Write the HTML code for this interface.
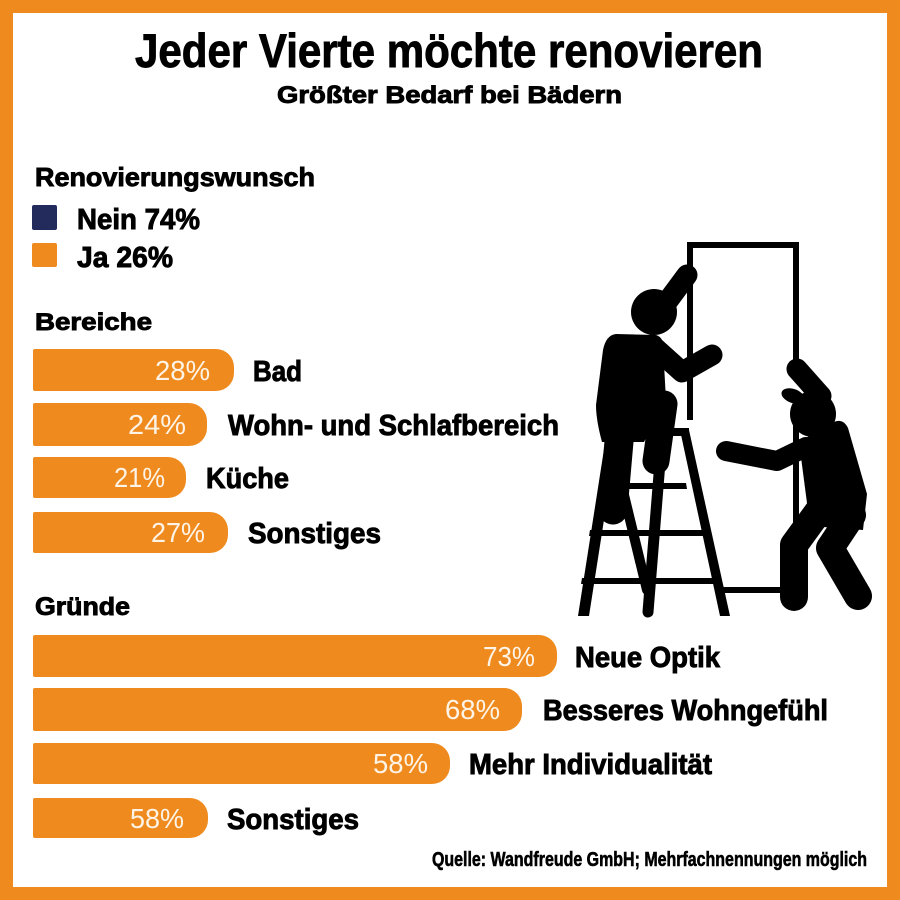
<!DOCTYPE html>
<html>
<head>
<meta charset="utf-8">
<style>
html,body{margin:0;padding:0;background:#fff;}
svg{display:block;}
.h{font-family:"Liberation Sans",sans-serif;font-weight:bold;fill:#000;stroke:#000;stroke-width:0.9;}
.p{font-family:"Liberation Sans",sans-serif;font-weight:normal;fill:#fdf3e6;}
</style>
</head>
<body>
<svg width="900" height="900" viewBox="0 0 900 900" xmlns="http://www.w3.org/2000/svg">
  <rect x="0" y="0" width="900" height="900" fill="#EF8B1E"/>
  <rect x="13" y="13" width="874" height="874" fill="#ffffff"/>

  <!-- Title -->
  <text class="h" x="135" y="67" font-size="47" textLength="628" lengthAdjust="spacingAndGlyphs">Jeder Vierte möchte renovieren</text>
  <text class="h" x="277" y="103" font-size="24" textLength="345" lengthAdjust="spacingAndGlyphs">Größter Bedarf bei Bädern</text>

  <!-- Renovierungswunsch -->
  <text class="h" x="35" y="186" font-size="26" textLength="280" lengthAdjust="spacingAndGlyphs">Renovierungswunsch</text>
  <rect x="32" y="205" width="25" height="25" rx="2" fill="#232a5c"/>
  <text class="h" x="77" y="229" font-size="29" textLength="123" lengthAdjust="spacingAndGlyphs">Nein 74%</text>
  <rect x="32" y="243" width="25" height="24" rx="2" fill="#EF8B1E"/>
  <text class="h" x="77" y="267" font-size="29" textLength="96" lengthAdjust="spacingAndGlyphs">Ja 26%</text>

  <!-- Bereiche -->
  <text class="h" x="35" y="330" font-size="24" textLength="117" lengthAdjust="spacingAndGlyphs">Bereiche</text>

  <path d="M35,349 H216 A18,18 0 0 1 234,367 V373 A18,18 0 0 1 216,391 H35 A2,2 0 0 1 33,389 V351 A2,2 0 0 1 35,349 Z" fill="#EF8B1E"/>
  <text class="p" x="155" y="380" font-size="28" textLength="55" lengthAdjust="spacingAndGlyphs">28%</text>
  <text class="h" x="253" y="381" font-size="29" textLength="49" lengthAdjust="spacingAndGlyphs">Bad</text>

  <path d="M35,403 H189 A18,18 0 0 1 207,421 V428 A18,18 0 0 1 189,446 H35 A2,2 0 0 1 33,444 V405 A2,2 0 0 1 35,403 Z" fill="#EF8B1E"/>
  <text class="p" x="128" y="434" font-size="28" textLength="58" lengthAdjust="spacingAndGlyphs">24%</text>
  <text class="h" x="228" y="435" font-size="29" textLength="331" lengthAdjust="spacingAndGlyphs">Wohn- und Schlafbereich</text>

  <path d="M35,457 H168 A18,18 0 0 1 186,475 V480 A18,18 0 0 1 168,498 H35 A2,2 0 0 1 33,496 V459 A2,2 0 0 1 35,457 Z" fill="#EF8B1E"/>
  <text class="p" x="114" y="487" font-size="28" textLength="51" lengthAdjust="spacingAndGlyphs">21%</text>
  <text class="h" x="206" y="488" font-size="29" textLength="83" lengthAdjust="spacingAndGlyphs">Küche</text>

  <path d="M35,512 H210 A18,18 0 0 1 228,530 V535 A18,18 0 0 1 210,553 H35 A2,2 0 0 1 33,551 V514 A2,2 0 0 1 35,512 Z" fill="#EF8B1E"/>
  <text class="p" x="151" y="542" font-size="28" textLength="54" lengthAdjust="spacingAndGlyphs">27%</text>
  <text class="h" x="248" y="543" font-size="29" textLength="133" lengthAdjust="spacingAndGlyphs">Sonstiges</text>

  <!-- Gründe -->
  <text class="h" x="35" y="615" font-size="25" textLength="95" lengthAdjust="spacingAndGlyphs">Gründe</text>

  <path d="M35,635 H539 A18,18 0 0 1 557,653 V659 A18,18 0 0 1 539,677 H35 A2,2 0 0 1 33,675 V637 A2,2 0 0 1 35,635 Z" fill="#EF8B1E"/>
  <text class="p" x="483" y="666" font-size="28" textLength="52" lengthAdjust="spacingAndGlyphs">73%</text>
  <text class="h" x="575" y="667" font-size="29" textLength="145" lengthAdjust="spacingAndGlyphs">Neue Optik</text>

  <path d="M35,688 H504 A18,18 0 0 1 522,706 V713 A18,18 0 0 1 504,731 H35 A2,2 0 0 1 33,729 V690 A2,2 0 0 1 35,688 Z" fill="#EF8B1E"/>
  <text class="p" x="445" y="719" font-size="28" textLength="55" lengthAdjust="spacingAndGlyphs">68%</text>
  <text class="h" x="543" y="720" font-size="29" textLength="285" lengthAdjust="spacingAndGlyphs">Besseres Wohngefühl</text>

  <path d="M35,743 H432 A18,18 0 0 1 450,761 V766 A18,18 0 0 1 432,784 H35 A2,2 0 0 1 33,782 V745 A2,2 0 0 1 35,743 Z" fill="#EF8B1E"/>
  <text class="p" x="373" y="773" font-size="28" textLength="55" lengthAdjust="spacingAndGlyphs">58%</text>
  <text class="h" x="469" y="774" font-size="29" textLength="243" lengthAdjust="spacingAndGlyphs">Mehr Individualität</text>

  <path d="M35,798 H190 A18,18 0 0 1 208,816 V820 A18,18 0 0 1 190,838 H35 A2,2 0 0 1 33,836 V800 A2,2 0 0 1 35,798 Z" fill="#EF8B1E"/>
  <text class="p" x="130" y="828" font-size="28" textLength="54" lengthAdjust="spacingAndGlyphs">58%</text>
  <text class="h" x="227" y="829" font-size="29" textLength="132" lengthAdjust="spacingAndGlyphs">Sonstiges</text>

  <!-- Source -->
  <text class="h" x="432" y="866" font-size="20" textLength="435" lengthAdjust="spacingAndGlyphs" style="stroke-width:0.6">Quelle: Wandfreude GmbH; Mehrfachnennungen möglich</text>

  <!-- Illustration -->
  <g fill="#000" stroke="none">
    <!-- door frame -->
    <rect x="687" y="242" width="112" height="6"/>
    <rect x="687" y="242" width="6" height="178"/>
    <rect x="793" y="242" width="6" height="118"/>
    <rect x="793" y="425" width="6" height="102"/>
    <rect x="723" y="587" width="60" height="6"/>

    <!-- ladder -->
    <rect x="605" y="428" width="84" height="8"/>
    <polygon points="607,430 618,430 589,616 578,616"/>
    <polygon points="680,430 689,430 730,616 720,616"/>
    <polygon points="620,483 686,483 687,489 620,489"/>
    <polygon points="590,530 702,530 703,536 589,536"/>
    <polygon points="582,578 716,578 717,584 581,584"/>
  </g>
  <g stroke="#000" fill="none" stroke-linecap="round" stroke-linejoin="round">
    <line x1="662" y1="437" x2="648" y2="612" stroke-width="11"/>
    <line x1="624" y1="495" x2="647" y2="590" stroke-width="10"/>
  </g>

  <!-- person 1 -->
  <g fill="#000" stroke="#000" stroke-linecap="round" stroke-linejoin="round">
    <circle cx="654" cy="312" r="23" stroke="none"/>
    <line x1="667" y1="302" x2="687" y2="275" stroke-width="21" fill="none"/>
    <polyline points="652,345 682,372 712,355" stroke-width="21" fill="none"/>
    <path d="M616,334 L656,335 Q663,337 663,346 L666,400 L644,442 L602,442 Q596,420 596,405 L603,350 Q606,335 616,334 Z" stroke="none"/>
    <polyline points="640,420 664,404 656,461" stroke-width="27" fill="none"/>
    <polyline points="620,430 613,510" stroke-width="29" fill="none"/>
  </g>

  <!-- person 2 -->
  <g fill="#000" stroke="#000" stroke-linecap="round" stroke-linejoin="round">
    <circle cx="813" cy="414" r="23" stroke="none"/>
    <ellipse cx="793" cy="396" rx="12" ry="7" transform="rotate(20 793 396)" stroke="none"/>
    <line x1="797" y1="369" x2="821" y2="396" stroke-width="21" fill="none"/>
    <polyline points="726,451 777,461 806,447" stroke-width="20" fill="none"/>
    <path d="M799,442 L834,422 Q843,418 848,428 L867,494 L863,530 L810,526 Z" stroke="none"/>
    <polyline points="818,512 794,545 794,597" stroke-width="28" fill="none"/>
    <polyline points="852,515 830,548 858,596" stroke-width="28" fill="none"/>
  </g>
</svg>
</body>
</html>
